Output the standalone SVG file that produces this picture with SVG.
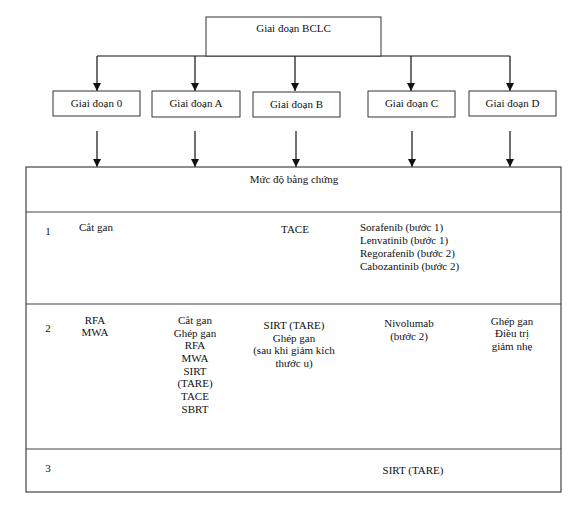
<svg xmlns="http://www.w3.org/2000/svg" width="576" height="508" viewBox="0 0 576 508">
<style>
  .box { fill: #fff; stroke: #333; stroke-width: 1; }
  .tbl { fill: none; stroke: #444; stroke-width: 1.2; }
  .conn { stroke: #111; stroke-width: 1.2; fill: none; }
  text { font-family: "Liberation Serif", "Times New Roman", serif; font-size: 11px; fill: #111; }
  .c { text-anchor: middle; }
</style>
<defs>
  <marker id="ah" viewBox="0 0 8 10" refX="8" refY="5" markerWidth="8" markerHeight="10" markerUnits="userSpaceOnUse" orient="auto">
    <path d="M0,1 L8,5 L0,9 Z" fill="#111"/>
  </marker>
</defs>
<rect width="576" height="508" fill="#fff"/>

<g id="connectors">
  <line class="conn" x1="97" y1="56" x2="510" y2="56"/>
  <line class="conn" x1="97" y1="56" x2="97" y2="91" marker-end="url(#ah)"/>
  <line class="conn" x1="195" y1="56" x2="195" y2="91" marker-end="url(#ah)"/>
  <line class="conn" x1="295" y1="56" x2="295" y2="91" marker-end="url(#ah)"/>
  <line class="conn" x1="411" y1="56" x2="411" y2="91" marker-end="url(#ah)"/>
  <line class="conn" x1="510" y1="56" x2="510" y2="91" marker-end="url(#ah)"/>
  <line class="conn" x1="97" y1="131" x2="97" y2="167" marker-end="url(#ah)"/>
  <line class="conn" x1="195" y1="131" x2="195" y2="167" marker-end="url(#ah)"/>
  <line class="conn" x1="296" y1="131" x2="296" y2="167" marker-end="url(#ah)"/>
  <line class="conn" x1="412" y1="131" x2="412" y2="167" marker-end="url(#ah)"/>
  <line class="conn" x1="510" y1="131" x2="510" y2="167" marker-end="url(#ah)"/>
</g>

<g id="bclc">
  <rect class="box" x="206" y="17" width="175" height="39"/>
  <text class="c" x="293.5" y="32">Giai đoạn BCLC</text>
</g>
<g id="stage0">
  <rect class="box" x="53" y="91" width="87" height="25"/>
  <text class="c" x="96.5" y="107">Giai đoạn 0</text>
</g>
<g id="stageA">
  <rect class="box" x="152" y="91" width="88" height="26"/>
  <text class="c" x="196" y="107">Giai đoạn A</text>
</g>
<g id="stageB">
  <rect class="box" x="253" y="92" width="87" height="25"/>
  <text class="c" x="296.5" y="108">Giai đoạn B</text>
</g>
<g id="stageC">
  <rect class="box" x="368" y="91" width="87" height="26"/>
  <text class="c" x="411.5" y="107">Giai đoạn C</text>
</g>
<g id="stageD">
  <rect class="box" x="469" y="91" width="87" height="25"/>
  <text class="c" x="512.5" y="107">Giai đoạn D</text>
</g>

<g id="table">
  <rect class="tbl" x="26" y="167" width="535" height="325"/>
  <line class="tbl" x1="26" y1="212" x2="561" y2="212"/>
  <line class="tbl" x1="26" y1="304" x2="561" y2="304"/>
  <line class="tbl" x1="26" y1="449" x2="561" y2="449"/>
  <text class="c" x="294" y="183">Mức độ bằng chứng</text>

  <text class="c" x="48" y="235">1</text>
  <text x="79" y="231">Cắt gan</text>
  <text class="c" x="295" y="233">TACE</text>
  <text x="360" y="231">Sorafenib (bước 1)</text>
  <text x="360" y="244">Lenvatinib (bước 1)</text>
  <text x="360" y="257">Regorafenib (bước 2)</text>
  <text x="360" y="270">Cabozantinib (bước 2)</text>

  <text class="c" x="48" y="332">2</text>
  <text class="c" x="95" y="324">RFA</text>
  <text class="c" x="95" y="336">MWA</text>
  <text class="c" x="195" y="324">Cắt gan</text>
  <text class="c" x="195" y="337">Ghép gan</text>
  <text class="c" x="195" y="349">RFA</text>
  <text class="c" x="195" y="362">MWA</text>
  <text class="c" x="195" y="375">SIRT</text>
  <text class="c" x="195" y="387">(TARE)</text>
  <text class="c" x="195" y="400">TACE</text>
  <text class="c" x="195" y="413">SBRT</text>
  <text class="c" x="294" y="329">SIRT (TARE)</text>
  <text class="c" x="294" y="342">Ghép gan</text>
  <text class="c" x="294" y="354">(sau khi giảm kích</text>
  <text class="c" x="294" y="367">thước u)</text>
  <text class="c" x="409" y="327">Nivolumab</text>
  <text class="c" x="409" y="340">(bước 2)</text>
  <text class="c" x="512" y="325">Ghép gan</text>
  <text class="c" x="512" y="337">Điều trị</text>
  <text class="c" x="512" y="350">giảm nhẹ</text>

  <text class="c" x="48" y="472">3</text>
  <text class="c" x="413" y="474">SIRT (TARE)</text>
</g>
</svg>
